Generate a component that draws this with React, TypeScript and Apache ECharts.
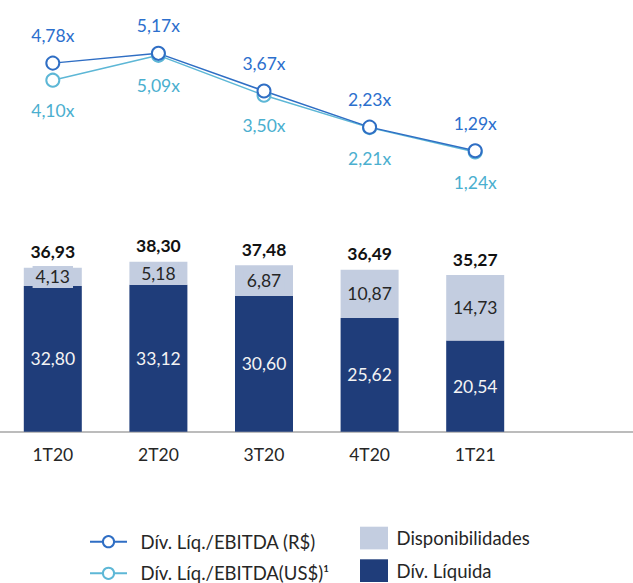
import React, { useEffect, useRef } from "react";
import * as echarts from "echarts";

const categories = ["1T20", "2T20", "3T20", "4T20", "1T21"];
const divLiquida = [32.8, 33.12, 30.6, 25.62, 20.54];
const disponibilidades = [4.13, 5.18, 6.87, 10.87, 14.73];
const totals = [36.93, 38.3, 37.48, 36.49, 35.27];
const ratioBRL = [4.78, 5.17, 3.67, 2.23, 1.29];
const ratioUSD = [4.1, 5.09, 3.5, 2.21, 1.24];

const nameBRL = "Dív. Líq./EBITDA (R$)";
const nameUSD = "Dív. Líq./EBITDA(US$)¹";
const nameDisp = "Disponibilidades";
const nameDiv = "Dív. Líquida";

const FONT = "Lato, 'Open Sans', sans-serif";
const fmt = (v: number) => v.toFixed(2).replace(".", ",");

const legendText = (padLeft: number) => ({
  fontSize: 18.5,
  lineHeight: 22,
  color: "#262626",
  fontFamily: FONT,
  padding: [0, 0, 0, padLeft],
});

export default function App() {
  const ref = useRef<HTMLDivElement>(null);
  useEffect(() => {
    if (!ref.current) return;
    const chart = echarts.init(ref.current, null, { renderer: "svg" });
    const num = (p: any) => fmt(p.value as number);
    const lineLegend = (name: string, top: number) => ({
      left: 89,
      top,
      padding: 0,
      itemWidth: 37,
      itemHeight: 14,
      data: [name],
      textStyle: legendText(8.5),
    });
    const barLegend = (name: string, top: number) => ({
      left: 360,
      top,
      padding: 0,
      itemWidth: 28,
      itemHeight: 22.7,
      icon: "rect",
      data: [name],
      textStyle: legendText(3.5),
    });
    chart.setOption({
      animation: false,
      backgroundColor: "#ffffff",
      textStyle: { fontFamily: FONT },
      grid: [
        { left: -1, width: 529, top: 32.5, height: 150.6 },
        { left: -1, width: 529, top: 254.1, height: 177.6 },
        { left: 0, width: 633, top: 254.1, height: 177.6 },
      ],
      xAxis: [
        { type: "category", gridIndex: 0, data: categories, show: false },
        {
          type: "category",
          gridIndex: 1,
          data: categories,
          axisLine: { show: false },
          axisTick: { show: false },
          axisLabel: { color: "#262626", fontSize: 17.5, margin: 14, fontFamily: FONT },
        },
        {
          type: "value",
          gridIndex: 2,
          min: 0,
          max: 1,
          axisLine: { show: true, lineStyle: { color: "#A6A6A6", width: 1.5 } },
          axisTick: { show: false },
          axisLabel: { show: false },
          splitLine: { show: false },
        },
      ],
      yAxis: [
        { type: "value", gridIndex: 0, min: 0, max: 6, show: false },
        { type: "value", gridIndex: 1, min: 0, max: 40, show: false },
        { type: "value", gridIndex: 2, min: 0, max: 1, show: false },
      ],
      legend: [
        lineLegend(nameBRL, 530.7),
        lineLegend(nameUSD, 562.3),
        barLegend(nameDisp, 526.7),
        barLegend(nameDiv, 559.3),
      ],
      series: [
        {
          name: nameUSD,
          type: "line",
          xAxisIndex: 0,
          yAxisIndex: 0,
          data: ratioUSD,
          symbol: "emptyCircle",
          symbolSize: 13,
          lineStyle: { color: "#5DB7D6", width: 1.5 },
          itemStyle: { color: "#5DB7D6", borderWidth: 2 },
          label: {
            show: true,
            position: "bottom",
            distance: 14,
            formatter: (p: any) => fmt(p.value) + "x",
            color: "#4BAFCF",
            fontSize: 17.5,
            fontFamily: FONT,
          },
        },
        {
          name: nameBRL,
          type: "line",
          xAxisIndex: 0,
          yAxisIndex: 0,
          data: ratioBRL,
          symbol: "emptyCircle",
          symbolSize: 13,
          lineStyle: { color: "#2F6EC4", width: 1.5 },
          itemStyle: { color: "#2F6EC4", borderWidth: 2 },
          label: {
            show: true,
            position: "top",
            distance: 11,
            formatter: (p: any) => fmt(p.value) + "x",
            color: "#2C6FCD",
            fontSize: 17.5,
            fontFamily: FONT,
          },
        },
        {
          name: nameDiv,
          type: "bar",
          xAxisIndex: 1,
          yAxisIndex: 1,
          stack: "a",
          barWidth: 58,
          data: divLiquida,
          itemStyle: { color: "#1F3D7A" },
          label: {
            show: true,
            position: "inside",
            formatter: num,
            color: "#F4F4F4",
            fontSize: 17.5,
            fontFamily: FONT,
          },
        },
        {
          name: nameDisp,
          type: "bar",
          xAxisIndex: 1,
          yAxisIndex: 1,
          stack: "a",
          barWidth: 58,
          data: disponibilidades,
          itemStyle: { color: "#C3CDE0" },
          label: {
            show: true,
            position: "inside",
            formatter: num,
            color: "#262626",
            fontSize: 17.5,
            fontFamily: FONT,
            backgroundColor: "#C3CDE0",
            padding: [2, 3],
          },
        },
        {
          name: "Total",
          type: "bar",
          xAxisIndex: 1,
          yAxisIndex: 1,
          barWidth: 58,
          barGap: "-100%",
          data: totals,
          silent: true,
          z: 1,
          itemStyle: { color: "rgba(0,0,0,0)" },
          label: {
            show: true,
            position: "top",
            distance: 7,
            formatter: num,
            color: "#111111",
            fontSize: 17.5,
            fontWeight: "bold",
            fontFamily: FONT,
          },
        },
      ],
    });
    return () => chart.dispose();
  }, []);
  return (
    <div
      ref={ref}
      style={{ position: "absolute", left: 0, top: 0, width: 633, height: 583, background: "#fff" }}
    />
  );
}
